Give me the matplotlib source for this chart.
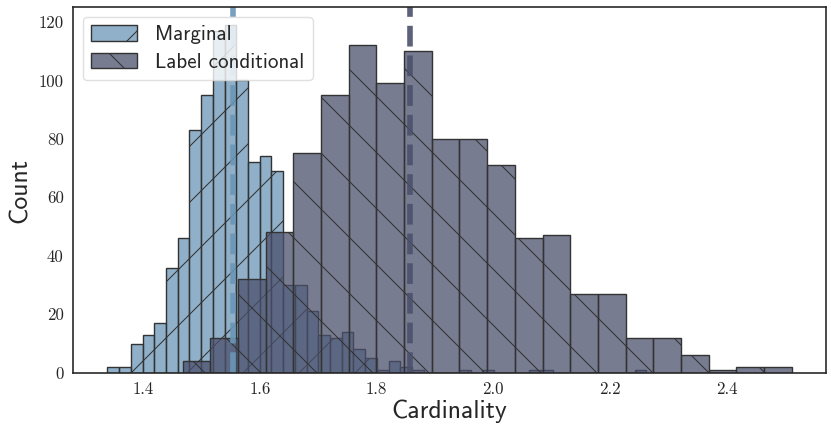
import numpy as np
import matplotlib
matplotlib.use('Agg')
import matplotlib.pyplot as plt

# histogram of the marginal set sizes (bin width ~0.02)
marg_start = 1.338
marg_width = 0.0201
marg_counts = [2, 2, 10, 13, 17, 36, 46, 83, 95, 117, 119, 100, 72, 74, 69,
               30, 30, 21, 13, 12, 14, 8, 5, 1, 4, 2, 1, 0, 0, 0, 1, 0, 1,
               0, 0, 0, 1, 1, 0, 0, 0, 0, 0, 0, 0, 1]
marg_mean = 1.554

# histogram of the label conditional set sizes (bin width ~0.0475)
lab_start = 1.467
lab_width = 0.0475
lab_counts = [4, 12, 32, 48, 75, 95, 112, 99, 110, 80, 80, 71, 46, 47, 27,
              27, 12, 12, 6, 1, 2, 2]
lab_mean = 1.857

xticks = [1.4, 1.6, 1.8, 2.0, 2.2, 2.4]
xtick_labels = ['1.4', '1.6', '1.8', '2.0', '2.2', '2.4']
yticks = [0, 20, 40, 60, 80, 100, 120]
ytick_labels = ['0', '20', '40', '60', '80', '100', '120']

marg_color = '#6a96b6'
lab_color = '#4b506c'

plt.rcParams['hatch.linewidth'] = 0.45
plt.rcParams['axes.linewidth'] = 0.7
plt.rcParams['axes.edgecolor'] = '0.15'
plt.rcParams['text.color'] = '0.15'
plt.rcParams['axes.labelcolor'] = '0.15'

dpi = 168
fig, ax = plt.subplots(figsize=(831 / dpi, 436 / dpi), dpi=dpi)
fig.subplots_adjust(left=0.088, right=0.994, top=0.983, bottom=0.145)

marg_left = marg_start + marg_width * np.arange(len(marg_counts))
lab_left = lab_start + lab_width * np.arange(len(lab_counts))

ax.bar(marg_left, marg_counts, width=marg_width, align='edge',
       facecolor=matplotlib.colors.to_rgba(marg_color, 0.75),
       edgecolor='0.2', linewidth=0.6, hatch='/', label='Marginal')
ax.bar(lab_left, lab_counts, width=lab_width, align='edge',
       facecolor=matplotlib.colors.to_rgba(lab_color, 0.75),
       edgecolor='0.2', linewidth=0.6, hatch='\\', label='Label conditional')

ax.axvline(marg_mean, color=marg_color, lw=2.4, ls='--', alpha=0.9)
ax.axvline(lab_mean, color=lab_color, lw=2.4, ls='--', alpha=0.9)

ax.set_xticks(xticks, xtick_labels, fontfamily='cmr10', fontsize=7.2)
ax.set_yticks(yticks, ytick_labels, fontfamily='cmr10', fontsize=7.2)
ax.tick_params(length=0, pad=4, colors='0.15')
ax.set_xlabel('Cardinality', fontfamily='cmss10', fontsize=11, labelpad=1)
ax.set_ylabel('Count', fontfamily='cmss10', fontsize=11, labelpad=3)

leg = ax.legend(loc='upper left', prop={'family': 'cmss10', 'size': 9.0},
                handlelength=2.2, handleheight=0.75, borderpad=0.4,
                labelspacing=0.4, handletextpad=0.85, fancybox=True,
                framealpha=0.8, borderaxespad=0.45)
leg.get_frame().set_linewidth(0.6)
leg.get_frame().set_edgecolor('0.85')

plt.savefig('out.png', dpi=dpi)
